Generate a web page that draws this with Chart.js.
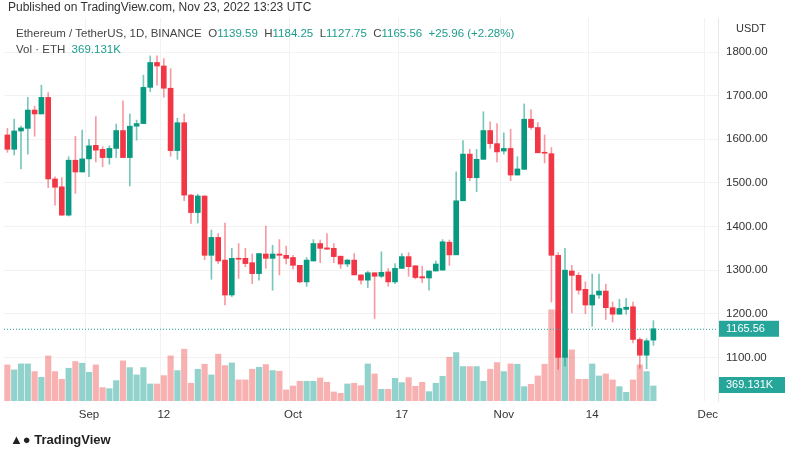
<!DOCTYPE html>
<html>
<head>
<meta charset="utf-8">
<script src="https://cdn.jsdelivr.net/npm/chart.js@4"></script>
<style>
  body { margin: 0; background: #fff; font-family: "Liberation Sans", Arial, sans-serif; }
  #wrap { position: relative; width: 800px; height: 450px; }
  #pub { position: absolute; left: 8px; top: 0px; font-size: 12px; color: #333; }
  #legend { position: absolute; left: 16px; top: 25px; font-size: 11.5px; color: #444; line-height: 16px; }
  #legend .v { color: #1c9c8c; }
  #foot { position: absolute; left: 10px; top: 432px; font-size: 13px; font-weight: bold; color: #222; }
  canvas { position: absolute; left: 0; top: 0; }
</style>
</head>
<body>
<div id="wrap">
  <canvas id="chart" width="800" height="450"></canvas>
  <div id="pub">Published on TradingView.com, Nov 23, 2022 13:23 UTC</div>
  <div id="legend">
    <div>Ethereum / TetherUS, 1D, BINANCE &nbsp;<span>O</span><span class="v">1139.59</span> &nbsp;H<span class="v">1184.25</span> &nbsp;L<span class="v">1127.75</span> &nbsp;C<span class="v">1165.56</span> <span class="v">&nbsp;+25.96 (+2.28%)</span></div>
    <div>Vol · ETH &nbsp;<span class="v">369.131K</span></div>
  </div>
  <div id="foot">&#9650;&#9679; TradingView</div>
</div>
<script>
// daily candles Aug 20 .. Nov 23 2022
const opens  = [1610,1577,1619,1625,1667,1658,1696,1509,1491,1426,1552,1525,1555,1586,1577,1558,1579,1620,1558,1630,1636,1719,1776,1768,1717,1574,1638,1472,1432,1470,1334,1375,1323,1243,1327,1327,1317,1292,1337,1327,1337,1334,1329,1311,1273,1321,1361,1351,1350,1332,1314,1323,1289,1277,1294,1286,1296,1273,1304,1331,1310,1285,1282,1298,1300,1364,1335,1459,1566,1512,1554,1620,1590,1573,1579,1518,1531,1646,1627,1570,1567,1334,1100,1298,1288,1256,1220,1243,1252,1214,1199,1210,1216,1141,1105,1139.59];
const highs  = [1625,1646,1630,1696,1676,1724,1707,1514,1512,1560,1607,1621,1600,1652,1583,1585,1635,1688,1658,1644,1747,1791,1791,1785,1762,1648,1658,1474,1474,1470,1392,1384,1408,1350,1361,1350,1337,1338,1401,1357,1370,1355,1334,1311,1329,1370,1369,1384,1361,1332,1325,1338,1289,1297,1294,1342,1304,1315,1338,1340,1310,1309,1298,1321,1370,1369,1525,1597,1577,1577,1663,1640,1636,1615,1623,1560,1681,1668,1638,1610,1581,1340,1350,1311,1294,1273,1291,1291,1268,1227,1233,1235,1227,1145,1143,1184.25];
const lows   = [1570,1564,1532,1566,1607,1658,1489,1449,1426,1424,1476,1525,1514,1548,1537,1543,1558,1558,1493,1598,1636,1709,1724,1696,1561,1554,1459,1407,1408,1324,1279,1315,1220,1239,1281,1308,1269,1277,1304,1254,1289,1314,1302,1271,1263,1321,1317,1348,1317,1304,1308,1289,1268,1260,1189,1283,1263,1269,1304,1286,1280,1271,1254,1298,1300,1311,1337,1459,1505,1480,1554,1579,1548,1566,1505,1518,1531,1623,1569,1546,1227,1073,1080,1202,1245,1200,1171,1235,1187,1181,1199,1199,1133,1075,1074,1127.75];
const closes = [1577,1619,1626,1667,1658,1696,1509,1490,1426,1552,1525,1555,1585,1575,1558,1579,1620,1558,1630,1636,1719,1776,1768,1717,1574,1638,1472,1432,1470,1334,1375,1321,1243,1327,1325,1315,1292,1338,1327,1337,1334,1327,1311,1273,1323,1361,1350,1348,1331,1314,1323,1289,1277,1294,1286,1295,1273,1304,1331,1308,1283,1282,1298,1314,1365,1335,1459,1566,1512,1554,1620,1590,1571,1579,1518,1532,1646,1627,1569,1568,1334,1100,1300,1288,1254,1220,1243,1252,1214,1199,1212,1215,1141,1105,1138,1165.56];
const volumeK = [885,763,910,910,722,582,1107,722,533,804,968,927,705,886,328,303,500,984,820,640,820,418,418,623,1107,746,1271,435,779,902,640,1148,869,935,517,517,779,828,894,746,730,271,369,484,484,484,566,459,221,189,418,435,377,910,664,287,287,558,451,574,361,459,230,435,607,1074,1189,845,845,845,484,779,943,722,910,902,353,410,615,902,2239,2214,1148,1255,533,533,910,615,664,517,353,213,517,886,722,369.131];
const priceTicks = [1100,1200,1300,1400,1500,1600,1700,1800];
const tickLabels = {12:'Sep', 23:'12', 42:'Oct', 58:'17', 73:'Nov', 86:'14', 103:'Dec'};
const lastPrice = 1165.56;

const N = 105;
const start = new Date(2022, 7, 20);
const labels = [];
for (let i = 0; i < N; i++) {
  const d = new Date(start); d.setDate(start.getDate() + i);
  labels.push(d.toDateString());
}
const up = '#089981', down = '#f23645';
const isUp = opens.map((o, i) => closes[i] >= o);
const candleCol = isUp.map(u => u ? up : down);
const wickCol = isUp.map(u => u ? 'rgba(8,153,129,0.55)' : 'rgba(242,54,69,0.5)');
const volCol = isUp.map(u => u ? 'rgba(38,166,154,0.5)' : 'rgba(242,100,100,0.5)');

const overlay = {
  id: 'overlay',
  afterDraw(chart) {
    const c = chart.ctx, a = chart.chartArea, y = chart.scales.y;
    const py = y.getPixelForValue(lastPrice);
    c.save();
    c.setLineDash([1, 2]); c.strokeStyle = '#26a69a'; c.lineWidth = 1;
    c.beginPath(); c.moveTo(a.left, py + 0.5); c.lineTo(a.right, py + 0.5); c.stroke();
    c.setLineDash([]);
    c.font = '11px "Liberation Sans", Arial'; c.textBaseline = 'middle';
    c.fillStyle = '#26a69a';
    c.fillRect(a.right + 1, py - 8, 60, 16);
    c.fillStyle = '#fff'; c.fillText(lastPrice.toFixed(2), a.right + 8, py);
    c.fillStyle = '#26a69a'; c.fillRect(a.right + 1, 377, 66, 16);
    c.fillStyle = '#fff'; c.fillText('369.131K', a.right + 8, 385);
    c.fillStyle = '#333'; c.fillText('USDT', a.right + 18, 29);
    c.restore();
  }
};

new Chart(document.getElementById('chart').getContext('2d'), {
  type: 'bar',
  data: {
    labels: labels,
    datasets: [
      { data: volumeK, yAxisID: 'yv', backgroundColor: volCol, barThickness: 5.5, grouped: false, order: 3 },
      { data: lows.map((l, i) => [l, highs[i]]), yAxisID: 'y', backgroundColor: wickCol, barThickness: 1, grouped: false, order: 2 },
      { data: opens.map((o, i) => [o, closes[i]]), yAxisID: 'y', backgroundColor: candleCol, barThickness: 5, minBarLength: 1, grouped: false, order: 1 }
    ]
  },
  options: {
    responsive: false,
    animation: false,
    layout: { padding: { top: 18, left: 4, right: 0 } },
    plugins: { legend: { display: false }, tooltip: { enabled: false } },
    scales: {
      x: {
        grid: { color: c => tickLabels[c.index] ? '#f2f2f2' : 'transparent', drawTicks: false },
        border: { display: false },
        ticks: {
          autoSkip: false, maxRotation: 0, padding: 7, color: '#333',
          font: { size: 11.5, family: 'Liberation Sans' },
          callback: (v, i) => tickLabels[i] || ''
        },
        afterFit: s => { s.height = 49; }
      },
      y: {
        position: 'right', min: 1000, max: 1878,
        grid: { color: '#f2f2f2', drawTicks: false },
        border: { display: true, color: '#e6e6e6' },
        afterBuildTicks: s => { s.ticks = priceTicks.map(v => ({ value: v })); },
        ticks: { padding: 8, color: '#333', font: { size: 11.5, family: 'Liberation Sans' }, callback: v => v.toFixed(2) },
        afterFit: s => { s.width = 82; }
      },
      yv: { display: false, min: 0, max: 9400 }
    }
  },
  plugins: [overlay]
});
</script>
</body>
</html>
